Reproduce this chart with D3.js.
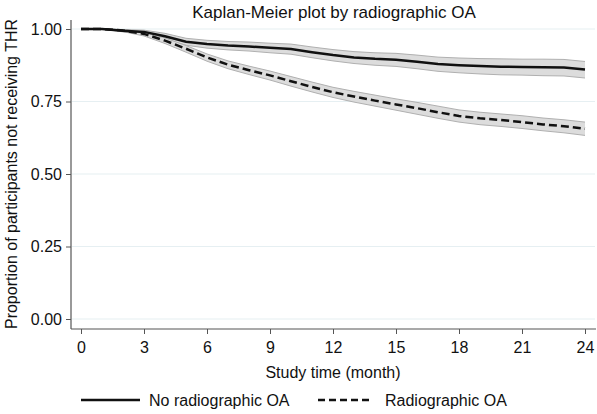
<!DOCTYPE html>
<html><head><meta charset="utf-8">
<script src="https://cdn.jsdelivr.net/npm/d3@7"></script>
<style>body{margin:0;background:#fff}svg{display:block;font-family:"Liberation Sans",Arial,sans-serif}</style>
</head><body><svg id="c" width="597" height="414"></svg>
<script>
const months = [0,1,2,3,4,5,6,7,8,9,10,11,12,13,14,15,16,17,18,19,20,21,22,23,24];
const noOA = [1.000,1.000,0.994,0.990,0.975,0.956,0.948,0.943,0.940,0.935,0.931,0.920,0.910,0.902,0.897,0.894,0.887,0.879,0.875,0.872,0.870,0.869,0.868,0.867,0.860];
const noOALower = [1.000,1.000,0.990,0.983,0.965,0.944,0.934,0.928,0.924,0.918,0.913,0.901,0.890,0.881,0.875,0.871,0.863,0.854,0.849,0.845,0.842,0.841,0.839,0.838,0.831];
const noOAUpper = [1.000,1.000,0.998,0.996,0.985,0.968,0.961,0.957,0.955,0.951,0.948,0.938,0.929,0.922,0.918,0.916,0.910,0.903,0.900,0.898,0.897,0.896,0.896,0.895,0.888];
const OA = [1.000,1.000,0.995,0.983,0.960,0.932,0.902,0.877,0.858,0.840,0.820,0.800,0.782,0.767,0.753,0.740,0.727,0.713,0.700,0.692,0.686,0.679,0.671,0.665,0.656];
const OALower = [1.000,1.000,0.991,0.976,0.950,0.920,0.889,0.863,0.843,0.824,0.803,0.783,0.764,0.748,0.734,0.720,0.706,0.692,0.679,0.670,0.664,0.657,0.649,0.642,0.633];
const OAUpper = [1.000,1.000,0.998,0.989,0.969,0.943,0.914,0.890,0.872,0.855,0.836,0.817,0.799,0.785,0.772,0.759,0.747,0.734,0.721,0.713,0.707,0.701,0.693,0.687,0.679];
const xTicks = [0,3,6,9,12,15,18,21,24];
const yTicks = [0,0.25,0.5,0.75,1];
const seriesNames = ["No radiographic OA","Radiographic OA"];

const svg = d3.select("#c");
const x = d3.scaleLinear().domain([0,24]).range([81,585]);
const y = d3.scaleLinear().domain([0,1]).range([319,29]);
const axisColor = "#555";
const FONT = "Liberation Sans, Arial, sans-serif";

// gridlines
svg.append("g").selectAll("line").data(yTicks).join("line")
  .attr("x1",72).attr("x2",595).attr("y1",d=>y(d)).attr("y2",d=>y(d))
  .attr("stroke","#e6eff2").attr("stroke-width",1.2);

function series(vals, lo, hi){ return months.map((t,i)=>({t, v:vals[i], lo:lo[i], hi:hi[i]})); }
const groups = [
  {data: series(noOA,noOALower,noOAUpper), dash:null},
  {data: series(OA,OALower,OAUpper), dash:"8,4"}
];
const area = d3.area().x(d=>x(d.t)).y0(d=>y(d.lo)).y1(d=>y(d.hi));
const line = d3.line().x(d=>x(d.t)).y(d=>y(d.v));
const loLine = d3.line().x(d=>x(d.t)).y(d=>y(d.lo));
const hiLine = d3.line().x(d=>x(d.t)).y(d=>y(d.hi));
groups.forEach(g=>{
  svg.append("path").attr("d",area(g.data)).attr("fill","#dcdcdc");
  svg.append("path").attr("d",loLine(g.data)).attr("fill","none").attr("stroke","#b0b0b0").attr("stroke-width",1);
  svg.append("path").attr("d",hiLine(g.data)).attr("fill","none").attr("stroke","#b0b0b0").attr("stroke-width",1);
});
groups.forEach(g=>{
  const p = svg.append("path").attr("d",line(g.data)).attr("fill","none").attr("stroke","#111").attr("stroke-width",2.5);
  if(g.dash) p.attr("stroke-dasharray",g.dash);
});

// axes
const yAxis = svg.append("g").attr("transform","translate(71,0)")
  .call(d3.axisLeft(y).tickValues(yTicks).tickFormat(d3.format(".2f")).tickSize(5).tickPadding(4));
yAxis.select(".domain").attr("d","M0,20V329");
const xAxis = svg.append("g").attr("transform","translate(0,329)")
  .call(d3.axisBottom(x).tickValues(xTicks).tickSize(5).tickPadding(8));
xAxis.select(".domain").attr("d","M71,0H596");
[yAxis,xAxis].forEach(a=>{
  a.selectAll(".domain").attr("stroke",axisColor).attr("stroke-width",1.2);
  a.selectAll(".tick line").attr("stroke",axisColor);
  a.selectAll("text").attr("font-size",16).attr("fill","#111").attr("font-family",FONT);
});

// titles
svg.append("text").attr("x",334).attr("y",18).attr("text-anchor","middle").attr("font-size",17).attr("fill","#111")
  .text("Kaplan-Meier plot by radiographic OA");
svg.append("text").attr("x",333).attr("y",378).attr("text-anchor","middle").attr("font-size",16).attr("fill","#111")
  .text("Study time (month)");
svg.append("text").attr("transform","translate(17,174) rotate(-90)").attr("text-anchor","middle").attr("font-size",16).attr("fill","#111")
  .text("Proportion of participants not receiving THR");

// legend
const leg = [{x1:81,x2:140,tx:149,dash:null},{x1:318,x2:373,tx:385,dash:"7,4"}];
leg.forEach((l,i)=>{
  const ln = svg.append("line").attr("x1",l.x1).attr("x2",l.x2).attr("y1",400).attr("y2",400)
    .attr("stroke","#111").attr("stroke-width",2.5);
  if(l.dash) ln.attr("stroke-dasharray",l.dash);
  svg.append("text").attr("x",l.tx).attr("y",406).attr("font-size",16).attr("fill","#111").text(seriesNames[i]);
});
</script></body></html>
